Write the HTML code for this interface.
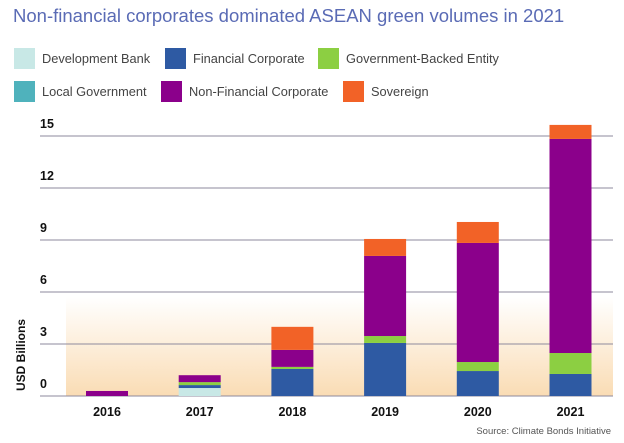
<!DOCTYPE html>
<html><head><meta charset="utf-8"><style>
body{margin:0;background:#fff;width:624px;height:443px;overflow:hidden}
svg{display:block;font-family:"Liberation Sans",sans-serif}
</style></head><body>
<svg id="chart" width="624" height="443" viewBox="0 0 624 443">
<defs><linearGradient id="bg" x1="0" y1="0" x2="0" y2="1"><stop offset="0" stop-color="#fadcb4" stop-opacity="0"/><stop offset="1" stop-color="#fadcb4"/></linearGradient></defs>
<text x="13" y="22" font-size="18.5" fill="#5a6bb5">Non-financial corporates dominated ASEAN green volumes in 2021</text>
<rect x="66" y="297" width="547" height="99" fill="url(#bg)"/>
<g id="grid"></g><g id="bars"></g><g id="legend"></g>
<text transform="translate(25,355) rotate(-90)" text-anchor="middle" font-size="12" font-weight="bold" fill="#111">USD Billions</text>
<text x="611" y="434" text-anchor="end" font-size="9.5" fill="#555">Source: Climate Bonds Initiative</text>
</svg>
<script>
const years=["2016","2017","2018","2019","2020","2021"];
const seriesNames=["Development Bank","Financial Corporate","Government-Backed Entity","Local Government","Non-Financial Corporate","Sovereign"];
const devBank=[0,0.46,0,0,0,0];
const finCorp=[0,0.17,1.56,3.06,1.44,1.27];
const govBacked=[0,0.17,0.12,0.4,0.52,1.21];
const localGov=[0,0,0,0,0,0];
const nonFinCorp=[0.29,0.4,0.98,4.62,6.87,12.35];
const sovereign=[0,0,1.33,0.98,1.21,0.81];
const yTicks=[0,3,6,9,12,15];
const colors=["#c8e8e6","#2e5aa3","#8ccf42","#4fb2bc","#8b008b","#f26227"];
const NS="http://www.w3.org/2000/svg";
const y=v=>396-v*52/3;
const x=i=>107+i*92.7;
const g=document.getElementById('grid'),b=document.getElementById('bars'),lg=document.getElementById('legend');
function mk(p,t,a){const e=document.createElementNS(NS,t);for(const k in a)e.setAttribute(k,a[k]);p.appendChild(e);return e;}
yTicks.forEach(t=>{
 const l=mk(g,'line',{x1:40,x2:613,y1:y(t),y2:y(t),stroke:'#8e8a9c','stroke-width':1});
 
 
 const tx=mk(g,'text',{x:40,y:y(t)-8,'font-size':12.5,'font-weight':'bold',fill:'#111'});tx.textContent=t;
 
 
});
const series=[devBank,finCorp,govBacked,localGov,nonFinCorp,sovereign];
years.forEach((yr,i)=>{
 let acc=0;
 series.forEach((s,k)=>{
  const v=s[i];if(v<=0)return;
  const r=mk(b,'rect',{x:x(i)-21,width:42,y:y(acc+v),height:y(acc)-y(acc+v),fill:colors[k]});
  
  
  acc+=v;
 });
 const t=mk(b,'text',{x:x(i),y:416,'text-anchor':'middle','font-size':12.5,'font-weight':'bold',fill:'#111'});t.textContent=yr;
 
 
});
const lx=[[14,165,318],[14,161,343]];
seriesNames.forEach((n,k)=>{
 const row=Math.floor(k/3),col=k%3,sx=lx[row][col],sy=48+row*33;
 const r=mk(lg,'rect',{x:sx,y:sy,width:21,height:21,fill:colors[k]});
 
 
 const t=mk(lg,'text',{x:sx+28,y:sy+15,'font-size':12.8,fill:'#444'});t.textContent=n;
 
 
});
</script>
</body></html>
